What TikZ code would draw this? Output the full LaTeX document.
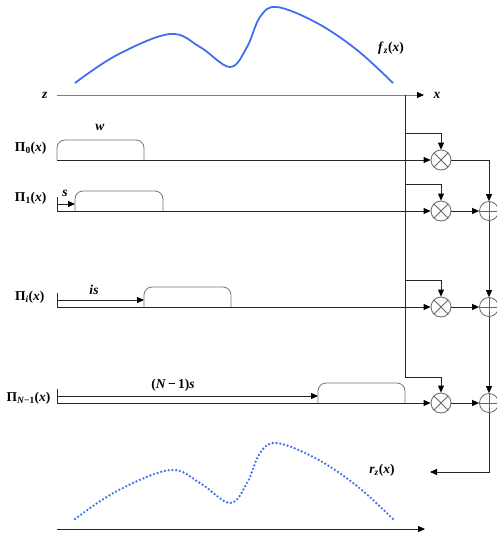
\documentclass[tikz,border=0pt]{standalone}
\usepackage{fontspec}
\setmainfont{Liberation Serif}
\usetikzlibrary{arrows.meta,positioning,calc}
\definecolor{curveblue}{RGB}{66,110,240}
\newcommand{\pilbl}[1]{\textbf{Π\textsubscript{#1}(\textit{x})}}

\begin{document}
\begin{tikzpicture}[x=1pt,y=-1pt,
  font=\fontsize{13.5}{15}\selectfont\bfseries,
  arr/.style={-{Triangle[length=7pt,width=6pt,color=black]}},
  sig/.style={line width=0.8pt,black!85},
  axisline/.style={line width=1pt,gray},
  pulse/.style={line width=0.8pt,gray!90!black,rounded corners=8pt},
  fcurve/.style={line width=1.8pt,curveblue},
  rcurve/.style={line width=2.6pt,curveblue,line cap=round,dash pattern=on 0pt off 3.8pt},
  mult/.style={circle,draw=gray!80!black,line width=0.8pt,minimum size=20pt,inner sep=0pt,
    path picture={\draw[gray!80!black,line width=0.8pt]
      (path picture bounding box.north west) -- (path picture bounding box.south east)
      (path picture bounding box.north east) -- (path picture bounding box.south west);}},
  adder/.style={circle,draw=gray!80!black,line width=0.8pt,minimum size=19pt,inner sep=0pt,
    path picture={\draw[gray!80!black,line width=0.8pt]
      (path picture bounding box.north) -- (path picture bounding box.south)
      (path picture bounding box.west) -- (path picture bounding box.east);}}
]
\useasboundingbox (0,0) rectangle (497,536);

% input function and axis
\draw[fcurve] plot[smooth,tension=0.6] coordinates {(75,83) (117,55) (170,34) (200,47)
  (230,67) (247,47) (260,17) (277,7) (317,23) (357,50) (393,83)};
\node (flbl) at (391,48) {\textit{f}\textsubscript{\textit{z}}(\textit{x})};
\coordinate (zstart) at (57,95);
\coordinate (zend) at (424,95);
\draw[axisline,arr] (zstart) -- (zend);
\node[left=6pt of zstart] (zlbl) {\textit{z}};
\node[right=6pt of zend] (xlbl) {\textit{x}};

% multipliers and adders
\node[mult] (m0) at (441,160) {};
\node[mult] (m1) at (441,211) {};
\node[mult] (mi) at (441,307) {};
\node[mult] (mN) at (441,403) {};
\node[adder] (a1) at (489,211) {};
\node[adder] (ai) at (489,307) {};
\node[adder] (aN) at (489,403) {};

% bus down from the axis
\coordinate (bustop) at (405,95);
\coordinate (b0) at (405,133);
\coordinate (b1) at (405,184);
\coordinate (bi) at (405,280);
\coordinate (bN) at (405,377);
\draw[sig] (bustop) -- (bN);
\draw[sig,arr] (b0) -| (m0);
\draw[sig,arr] (b1) -| (m1);
\draw[sig,arr] (bi) -| (mi);
\draw[sig,arr] (bN) -| (mN);

% row 0
\node[anchor=east] (pi0) at (50,148) {\pilbl{0}};
\coordinate (in0) at (57,160);
\draw[pulse] (57,160) -- (57,140) -- (144,140) -- (144,160);
\node (wlbl) at (100,127) {\textit{w}};
\draw[sig,arr] (in0) -- (m0);

% row 1
\node[anchor=east] (pi1) at (50,198) {\pilbl{1}};
\coordinate (in1) at (57,211);
\draw[sig] (57,197) -- (in1);
\draw[sig,arr] (57,204) -- (75,204);
\node (slbl) at (65,193) {\textit{s}};
\draw[pulse] (75,211) -- (75,191) -- (163,191) -- (163,211);
\draw[sig,arr] (in1) -- (m1);

% row i
\node[anchor=east] (pii) at (48,297) {\pilbl{\textit{i}}};
\coordinate (ini) at (57,307);
\draw[sig] (57,293) -- (ini);
\draw[sig,arr] (57,300) -- (144,300);
\node (islbl) at (94,290) {\textit{is}};
\draw[pulse] (144,307) -- (144,287) -- (231,287) -- (231,307);
\draw[sig,arr] (ini) -- (mi);

% row N-1
\node[anchor=east] (piN) at (54,398) {\pilbl{\textit{N}−1}};
\coordinate (inN) at (57,403);
\draw[sig] (57,389) -- (inN);
\draw[sig,arr] (57,396) -- (318,396);
\node (nslbl) at (173,385) {(\textit{N}\,−\,1)\textit{s}};
\draw[pulse] (318,403) -- (318,383) -- (405,383) -- (405,403);
\draw[sig,arr] (inN) -- (mN);

% summing chain
\draw[sig,arr] (m0) -| (a1);
\draw[sig,arr] (m1) -- (a1);
\draw[sig,arr] (a1) -- (ai);
\draw[sig,arr] (mi) -- (ai);
\draw[sig,arr] (ai) -- (aN);
\draw[sig,arr] (mN) -- (aN);
\coordinate (rout) at (430,472);
\draw[sig,arr] (aN) |- (rout);

% output function
\draw[rcurve,shift={(0,436)}] plot[smooth,tension=0.6] coordinates {(75,83) (117,55)
  (170,34) (200,47) (230,67) (247,47) (260,17) (277,7) (317,23) (357,50) (393,83)};
\node (rlbl) at (382,470) {\textit{r}\textsubscript{\textit{z}}(\textit{x})};
\coordinate (rstart) at (57,529);
\coordinate (rend) at (425,529);
\draw[sig,arr] (rstart) -- (rend);
\end{tikzpicture}
\end{document}
